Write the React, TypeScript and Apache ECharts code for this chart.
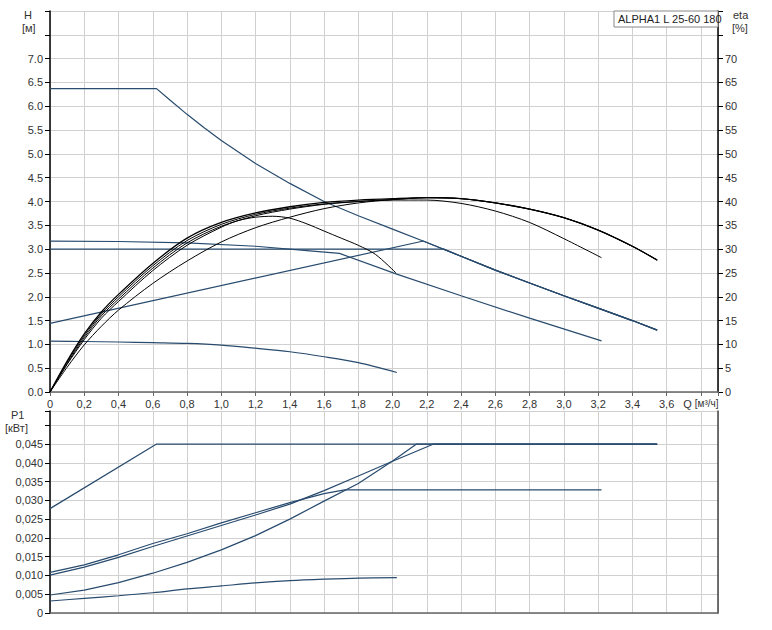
import { useEffect, useRef } from "react";
import * as echarts from "echarts";

// Q [m³/h] vs value pairs
const headMax: number[][] = [[0, 6.37], [0.622, 6.37], [0.7, 6.13], [0.8, 5.83], [0.9, 5.55], [1.0, 5.28], [1.2, 4.8], [1.4, 4.38], [1.6, 4.0], [1.8, 3.7], [2.0, 3.42], [2.2, 3.14], [2.4, 2.85], [2.6, 2.56], [2.8, 2.29], [3.0, 2.02], [3.2, 1.76], [3.4, 1.5], [3.545, 1.3]];
const headConst: number[][] = [[0, 3.0], [2.3, 3.0], [2.4, 2.85], [2.6, 2.56], [2.8, 2.29], [3.0, 2.02], [3.2, 1.76], [3.4, 1.5], [3.545, 1.3]];
const headProp: number[][] = [[0, 1.44], [2.18, 3.17], [2.2, 3.14], [2.4, 2.85], [2.6, 2.56], [2.8, 2.29], [3.0, 2.02], [3.2, 1.76], [3.4, 1.5], [3.545, 1.3]];
const headMid: number[][] = [[0, 3.17], [0.4, 3.16], [0.8, 3.13], [1.2, 3.06], [1.5, 2.97], [1.69, 2.91], [2.02, 2.48], [2.4, 2.02], [2.8, 1.55], [3.22, 1.075]];
const headLow: number[][] = [[0, 1.07], [0.2, 1.06], [0.4, 1.05], [0.6, 1.035], [0.8, 1.02], [1.0, 0.985], [1.2, 0.92], [1.4, 0.845], [1.6, 0.74], [1.8, 0.615], [2.025, 0.41]];

const etaMax: number[][] = [[0, 0], [0.1, 6.5], [0.2, 12.2], [0.3, 16.8], [0.4, 20.5], [0.6, 27.0], [0.8, 32.3], [1.0, 35.6], [1.2, 37.6], [1.4, 38.9], [1.6, 39.8], [1.8, 40.3], [2.0, 40.6], [2.2, 40.8], [2.4, 40.6], [2.6, 39.7], [2.8, 38.4], [3.0, 36.6], [3.2, 34.0], [3.4, 30.6], [3.545, 27.7]];
const etaConst: number[][] = [[0, 0], [0.1, 6.0], [0.2, 11.4], [0.3, 16.0], [0.4, 19.5], [0.6, 26.0], [0.8, 31.3], [1.0, 34.8], [1.2, 37.0], [1.4, 38.4], [1.6, 39.4], [1.8, 40.0], [2.0, 40.4], [2.2, 40.8], [2.4, 40.6], [2.6, 39.7], [2.8, 38.4], [3.0, 36.6], [3.2, 34.0], [3.4, 30.6], [3.545, 27.7]];
const etaProp: number[][] = [[0, 0], [0.1, 5.2], [0.2, 9.9], [0.3, 13.8], [0.4, 17.2], [0.6, 22.8], [0.8, 27.5], [1.0, 31.5], [1.2, 34.5], [1.4, 36.7], [1.6, 38.5], [1.8, 39.7], [2.0, 40.4], [2.2, 40.8], [2.4, 40.6], [2.6, 39.7], [2.8, 38.4], [3.0, 36.6], [3.2, 34.0], [3.4, 30.6], [3.545, 27.7]];
const etaMid: number[][] = [[0, 0], [0.1, 6.3], [0.2, 11.8], [0.3, 16.4], [0.4, 20.0], [0.6, 26.5], [0.8, 31.8], [1.0, 35.2], [1.2, 37.3], [1.4, 38.6], [1.6, 39.5], [1.8, 40.0], [2.0, 40.3], [2.2, 40.3], [2.4, 39.6], [2.6, 38.0], [2.8, 35.6], [3.0, 32.2], [3.22, 28.2]];
const etaLow: number[][] = [[0, 0], [0.1, 5.8], [0.2, 11.0], [0.3, 15.5], [0.4, 19.0], [0.6, 25.5], [0.8, 30.8], [1.0, 34.6], [1.1, 36.0], [1.2, 36.7], [1.3, 36.9], [1.4, 36.5], [1.5, 35.3], [1.6, 33.8], [1.7, 32.3], [1.8, 30.8], [1.9, 28.9], [2.02, 25.0]];

const powerMax: number[][] = [[0, 0.0278], [0.622, 0.045], [3.545, 0.045]];
const powerConst: number[][] = [[0, 0.0101], [0.2, 0.0122], [0.4, 0.0148], [0.6, 0.0177], [0.8, 0.0205], [1.0, 0.0233], [1.2, 0.0261], [1.4, 0.029], [1.6, 0.0326], [1.8, 0.0365], [2.0, 0.0404], [2.24, 0.045], [3.545, 0.045]];
const powerProp: number[][] = [[0, 0.0048], [0.2, 0.0061], [0.4, 0.0081], [0.6, 0.0106], [0.8, 0.0135], [1.0, 0.0168], [1.2, 0.0206], [1.4, 0.025], [1.6, 0.0298], [1.8, 0.0345], [2.0, 0.0405], [2.14, 0.045], [3.545, 0.045]];
const powerMid: number[][] = [[0, 0.0108], [0.2, 0.0128], [0.4, 0.0155], [0.6, 0.0185], [0.8, 0.0211], [1.0, 0.024], [1.2, 0.0267], [1.4, 0.0294], [1.6, 0.0318], [1.72, 0.0328], [3.22, 0.0328]];
const powerLow: number[][] = [[0, 0.0032], [0.2, 0.0039], [0.4, 0.0046], [0.6, 0.0054], [0.8, 0.0064], [1.0, 0.0072], [1.2, 0.008], [1.4, 0.0086], [1.6, 0.009], [1.8, 0.0093], [2.025, 0.0094]];

const pumpName = "ALPHA1 L 25-60 180";

const FONT = "Liberation Sans, Arial, sans-serif";
const BLUE = "#284b6e";
const GRID = "#d0d0d0";

const near = (a: number, b: number) => Math.abs(a - b) < 1e-6;

function headLine(data: number[][], smooth = false) {
    return { type: "line", xAxisIndex: 0, yAxisIndex: 0, data, symbol: "none", smooth: smooth ? 0.3 : false, lineStyle: { color: BLUE, width: 1.2 }, z: 3 };
}
function etaLine(data: number[][], width = 1) {
    return { type: "line", xAxisIndex: 0, yAxisIndex: 1, data, symbol: "none", smooth: 0.3, lineStyle: { color: "#000", width }, z: 4 };
}
function powerLine(data: number[][], smooth = false) {
    return { type: "line", xAxisIndex: 1, yAxisIndex: 2, data, symbol: "none", smooth: smooth ? 0.3 : false, lineStyle: { color: BLUE, width: 1.2 }, z: 3 };
}

function qLabel(v: number): string {
    if (near(v, 3.8)) return "Q {u|[м³/ч]}";
    if (v > 3.85) return "";
    return v === 0 ? "0" : v.toFixed(1).replace(".", ",");
}

export default function App() {
    const ref = useRef<HTMLDivElement>(null);

    useEffect(() => {
        if (!ref.current) return;
        document.body.style.margin = "0";
        const chart = echarts.init(ref.current, undefined, { renderer: "svg" });
        const labelStyle = { color: "#333", fontSize: 11, fontFamily: FONT };
        const xBase = {
            type: "value", min: 0, max: 3.9, interval: 0.2,
            axisLine: { lineStyle: { color: "#666", width: 1.5 } },
            splitLine: { show: true, lineStyle: { color: GRID, width: 1 } }
        };
        chart.setOption({
            animation: false,
            backgroundColor: "#fff",
            grid: [
                { left: 50, top: 11, width: 668, height: 381 },
                { left: 50, top: 411, width: 668, height: 202 }
            ],
            xAxis: [
                {
                    ...xBase, gridIndex: 0,
                    axisTick: { show: true, length: 4, lineStyle: { color: "#666" } },
                    axisLabel: { ...labelStyle, margin: 6, formatter: qLabel, rich: { u: { fontSize: 10, fontFamily: FONT, color: "#333" } } }
                },
                { ...xBase, gridIndex: 1, axisTick: { show: false }, axisLabel: { show: false } }
            ],
            yAxis: [
                {
                    type: "value", gridIndex: 0, min: 0, max: 8, interval: 0.5,
                    axisLine: { show: true, lineStyle: { color: "#000", width: 1.5 } },
                    axisTick: { show: true, length: 5, lineStyle: { color: "#000" } },
                    axisLabel: { ...labelStyle, margin: 7, formatter: (v: number) => (v > 7.05 ? "" : v.toFixed(1)) },
                    splitLine: { show: true, lineStyle: { color: GRID, width: 1 } }
                },
                {
                    type: "value", gridIndex: 0, position: "right", min: 0, max: 80, interval: 5,
                    axisLine: { show: true, lineStyle: { color: "#000", width: 1.5 } },
                    axisTick: { show: true, length: 5, lineStyle: { color: "#000" } },
                    axisLabel: { ...labelStyle, margin: 7, formatter: (v: number) => (v > 72 ? "" : String(v)) },
                    splitLine: { show: false }
                },
                {
                    type: "value", gridIndex: 1, min: 0, max: 0.0538, interval: 0.005,
                    axisLine: { show: true, lineStyle: { color: "#000", width: 1.5 } },
                    axisTick: { show: true, length: 5, lineStyle: { color: "#000" } },
                    axisLabel: { ...labelStyle, margin: 7, formatter: (v: number) => (v > 0.0495 ? "" : v === 0 ? "0" : v.toFixed(3).replace(".", ",")) },
                    splitLine: { show: true, lineStyle: { color: GRID, width: 1 } }
                },
                {
                    type: "value", gridIndex: 1, position: "right", min: 0, max: 0.0538, interval: 0.005,
                    axisLine: { show: true, lineStyle: { color: "#444", width: 1.5 } },
                    axisTick: { show: false }, axisLabel: { show: false }, splitLine: { show: false }
                }
            ],
            graphic: [
                { type: "text", left: 24, top: 9, style: { text: "H", fontSize: 11, fontFamily: FONT, fill: "#333" } },
                { type: "text", left: 22, top: 22, style: { text: "[м]", fontSize: 11, fontFamily: FONT, fill: "#333" } },
                { type: "text", left: 733, top: 9, style: { text: "eta", fontSize: 11, fontFamily: FONT, fill: "#333" } },
                { type: "text", left: 732, top: 22, style: { text: "[%]", fontSize: 11, fontFamily: FONT, fill: "#333" } },
                { type: "text", left: 11, top: 409, style: { text: "P1", fontSize: 11, fontFamily: FONT, fill: "#333" } },
                { type: "text", left: 5, top: 422, style: { text: "[кВт]", fontSize: 11, fontFamily: FONT, fill: "#333" } },
                { type: "rect", shape: { x: 614, y: 11, width: 104, height: 16 }, style: { fill: "#fff", stroke: "#888", lineWidth: 1 }, z: 100 },
                { type: "text", x: 618, y: 19, style: { text: pumpName, fontSize: 11, fontFamily: FONT, fill: "#222", verticalAlign: "middle" }, z: 101 }
            ],
            series: [
                headLine(headMax), headLine(headConst), headLine(headProp), headLine(headMid), headLine(headLow, true),
                etaLine(etaMax, 1.3), etaLine(etaConst), etaLine(etaProp), etaLine(etaMid), etaLine(etaLow),
                powerLine(powerMax), powerLine(powerConst), powerLine(powerProp), powerLine(powerMid), powerLine(powerLow, true)
            ]
        } as any);
        return () => chart.dispose();
    }, []);

    return <div ref={ref} style={{ position: "fixed", left: 0, top: 0, width: 772, height: 630 }} />;
}
